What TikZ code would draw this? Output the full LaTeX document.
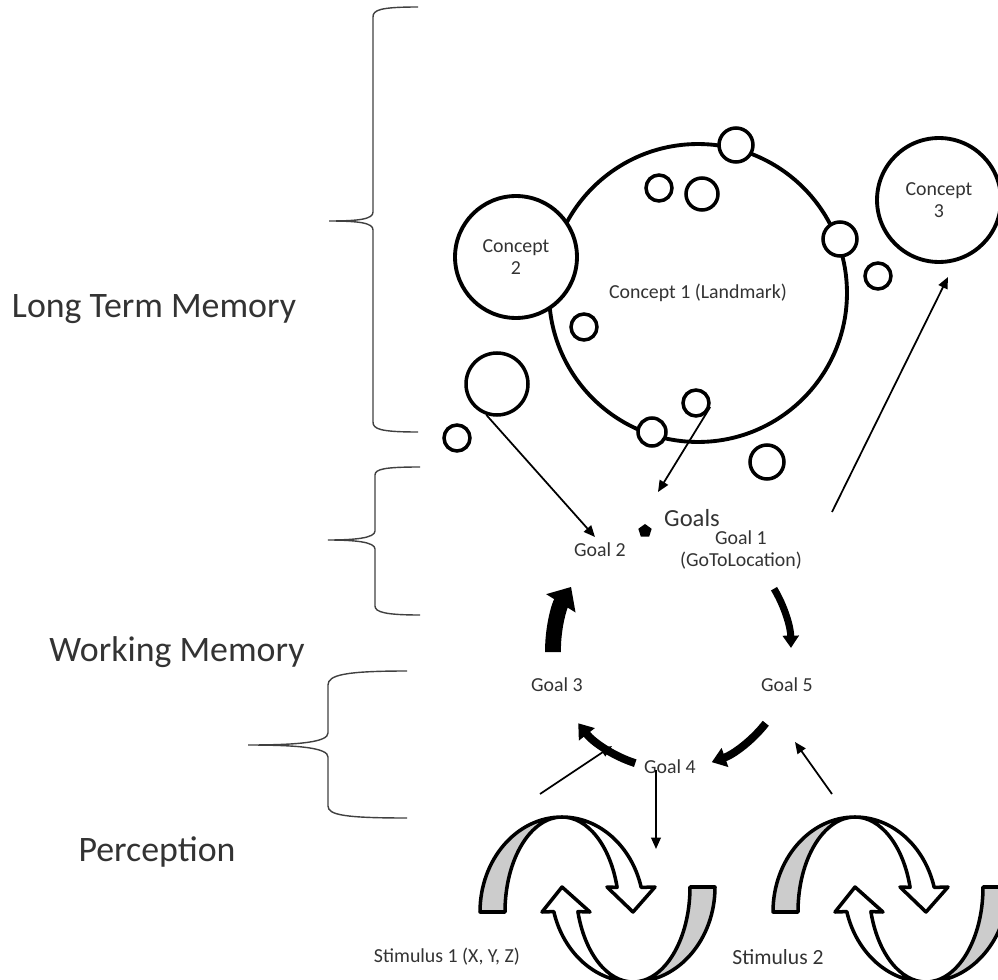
\documentclass[tikz,border=0pt]{standalone}
\usepackage{fontspec}
\setmainfont{Carlito}
\usetikzlibrary{arrows.meta,shapes.geometric}

\begin{document}
\begin{tikzpicture}[x=0.02cm, y=-0.02cm,
	concept/.style={circle, draw, line width=2.2pt, fill=white, inner sep=0pt, align=center, text=black!80, font=\fontsize{11.3}{12.5}\selectfont},
	bubble/.style={circle, draw, line width=2pt, fill=white, inner sep=0pt},
	lbl/.style={align=center, text=black!80, font=\fontsize{11.3}{13}\selectfont},
	layer/.style={text=black!80, font=\fontsize{20.4}{24}\selectfont},
	link/.style={-{Triangle[length=6.5pt,width=5.5pt]}, line width=1pt},
	memory/.style={line width=0.8pt, draw=black!75},
	turn/.style={line width=4.5pt, -{Triangle[length=8pt,width=11pt]}},
	ribbon/.style={draw, line width=2pt, line join=round}]
	\useasboundingbox (0,0) rectangle (998,980);

	% memory braces
	\draw[memory] (418,7) .. controls (380,7) and (373,10) .. (373,17) -- (373,212)
		.. controls (373,219) and (360,221) .. (329,221) .. controls (360,221) and (373,223) .. (373,230)
		-- (373,422) .. controls (373,429) and (380,432) .. (418,432);
	\draw[memory] (420,467) .. controls (385,467) and (375,469) .. (375,475) -- (375,531)
		.. controls (375,538) and (355,540) .. (328,540) .. controls (355,540) and (375,542) .. (375,549)
		-- (375,606) .. controls (375,612) and (385,615) .. (420,615);
	\draw[memory] (407,671) .. controls (345,671) and (328,675) .. (328,685) -- (328,733)
		.. controls (328,742) and (300,745) .. (248,745) .. controls (300,745) and (328,748) .. (328,757)
		-- (328,806) .. controls (328,815) and (345,818) .. (407,818);

	\node[layer] (ltm) at (154,309) {Long Term Memory};
	\node[layer] (wm) at (177,652) {Working Memory};
	\node[layer] (per) at (157,852) {Perception};

	% concepts
	\node[concept, minimum size=5.96cm] (c1) at (698,293) {Concept 1 (Landmark)};
	\node[concept, minimum size=2.44cm] (c2) at (516,257) {Concept\\2};
	\node[concept, minimum size=2.48cm] (c3) at (939,200) {Concept\\3};
	\node[bubble, minimum size=0.68cm] (b1) at (736,145) {};
	\node[bubble, minimum size=0.52cm] (b2) at (659,188) {};
	\node[bubble, minimum size=0.64cm] (b3) at (702,194) {};
	\node[bubble, minimum size=0.68cm] (b4) at (840,239) {};
	\node[bubble, minimum size=0.52cm] (b5) at (878,276) {};
	\node[bubble, minimum size=0.52cm] (b6) at (584,327) {};
	\node[bubble, minimum size=1.24cm] (b7) at (497,384) {};
	\node[bubble, minimum size=0.52cm] (b8) at (457,438) {};
	\node[bubble, minimum size=0.52cm] (b9) at (696,403) {};
	\node[bubble, minimum size=0.56cm] (b10) at (652,432) {};
	\node[bubble, minimum size=0.68cm] (b11) at (767,462) {};

	% goals
	\node[lbl, font=\fontsize{14}{16}\selectfont] (goals) at (692,518) {Goals};
	\node[fill=black, regular polygon, regular polygon sides=5, inner sep=0pt, minimum size=8pt] (mark) at (645,531) {};
	\node[lbl] (g1) at (741,550) {Goal 1\\(GoToLocation)};
	\node[lbl] (g2) at (600,550) {Goal 2};
	\node[lbl] (g3) at (557,685) {Goal 3};
	\node[lbl] (g4) at (670,767) {Goal 4};
	\node[lbl] (g5) at (787,685) {Goal 5};
	\node[lbl] (st1) at (447,957) {Stimulus 1 (X, Y, Z)};
	\node[lbl, font=\fontsize{12.3}{14}\selectfont] (st2) at (778,957) {Stimulus 2};

	\coordinate (g2in) at (595,537);
	\coordinate (goalsin) at (658,492);
	\coordinate (g1out) at (832,512);
	\coordinate (c3in) at (948,277);
	\coordinate (p1) at (540,794);
	\coordinate (p1in) at (612,746);
	\coordinate (g4out) at (656,770);
	\coordinate (st1in) at (656,849);
	\coordinate (p2) at (832,794);
	\coordinate (g5in) at (795,742);
	\coordinate (hub) at (672,650);

	\draw[link] (b7.251) -- (g2in);
	\draw[link] (b9.344) -- (goalsin);
	\draw[link] (g1out) -- (c3in);
	\draw[link] (p1) -- (p1in);
	\draw[link] (g4out) -- (st1in);
	\draw[link] (p2) -- (g5in);

	% goal cycle
	\draw[turn, line width=9pt, -{Triangle[length=11pt,width=19pt]}] ([shift={(179:119)}]hub) arc[start angle=179, end angle=212, radius=119];
	\draw[turn, line width=4pt, -{Triangle[length=7pt,width=9pt]}] ([shift={(-31:119)}]hub) arc[start angle=-31, end angle=-1, radius=119];
	\draw[turn] ([shift={(38:119)}]hub) arc[start angle=38, end angle=70.5, radius=119];
	\draw[turn] ([shift={(108:119)}]hub) arc[start angle=108, end angle=142, radius=119];

	% stimuli
	\foreach \dx in {0,293} {
		\begin{scope}[shift={(\dx,0)}]
		\filldraw[ribbon, fill=black!20] (480,912) arc[start angle=180, end angle=270, x radius=82, y radius=95]
			arc[start angle=270, end angle=180, x radius=57, y radius=95] -- cycle;
		\filldraw[ribbon, fill=white] (562,817) arc[start angle=270, end angle=345, x radius=82, y radius=95]
			-- (655,887) -- (633,912) -- (607,887) -- (617.1,887.4)
			arc[start angle=345, end angle=270, x radius=57, y radius=95] -- cycle;
		\filldraw[ribbon, fill=black!20] (715,887) arc[start angle=0, end angle=90, x radius=82, y radius=95]
			arc[start angle=90, end angle=0, x radius=57, y radius=95] -- cycle;
		\filldraw[ribbon, fill=white] (633,982) arc[start angle=90, end angle=165, x radius=82, y radius=95]
			-- (542,912) -- (562,887) -- (590,912) -- (577.9,911.6)
			arc[start angle=165, end angle=90, x radius=57, y radius=95] -- cycle;
		\end{scope}
	}
\end{tikzpicture}
\end{document}
